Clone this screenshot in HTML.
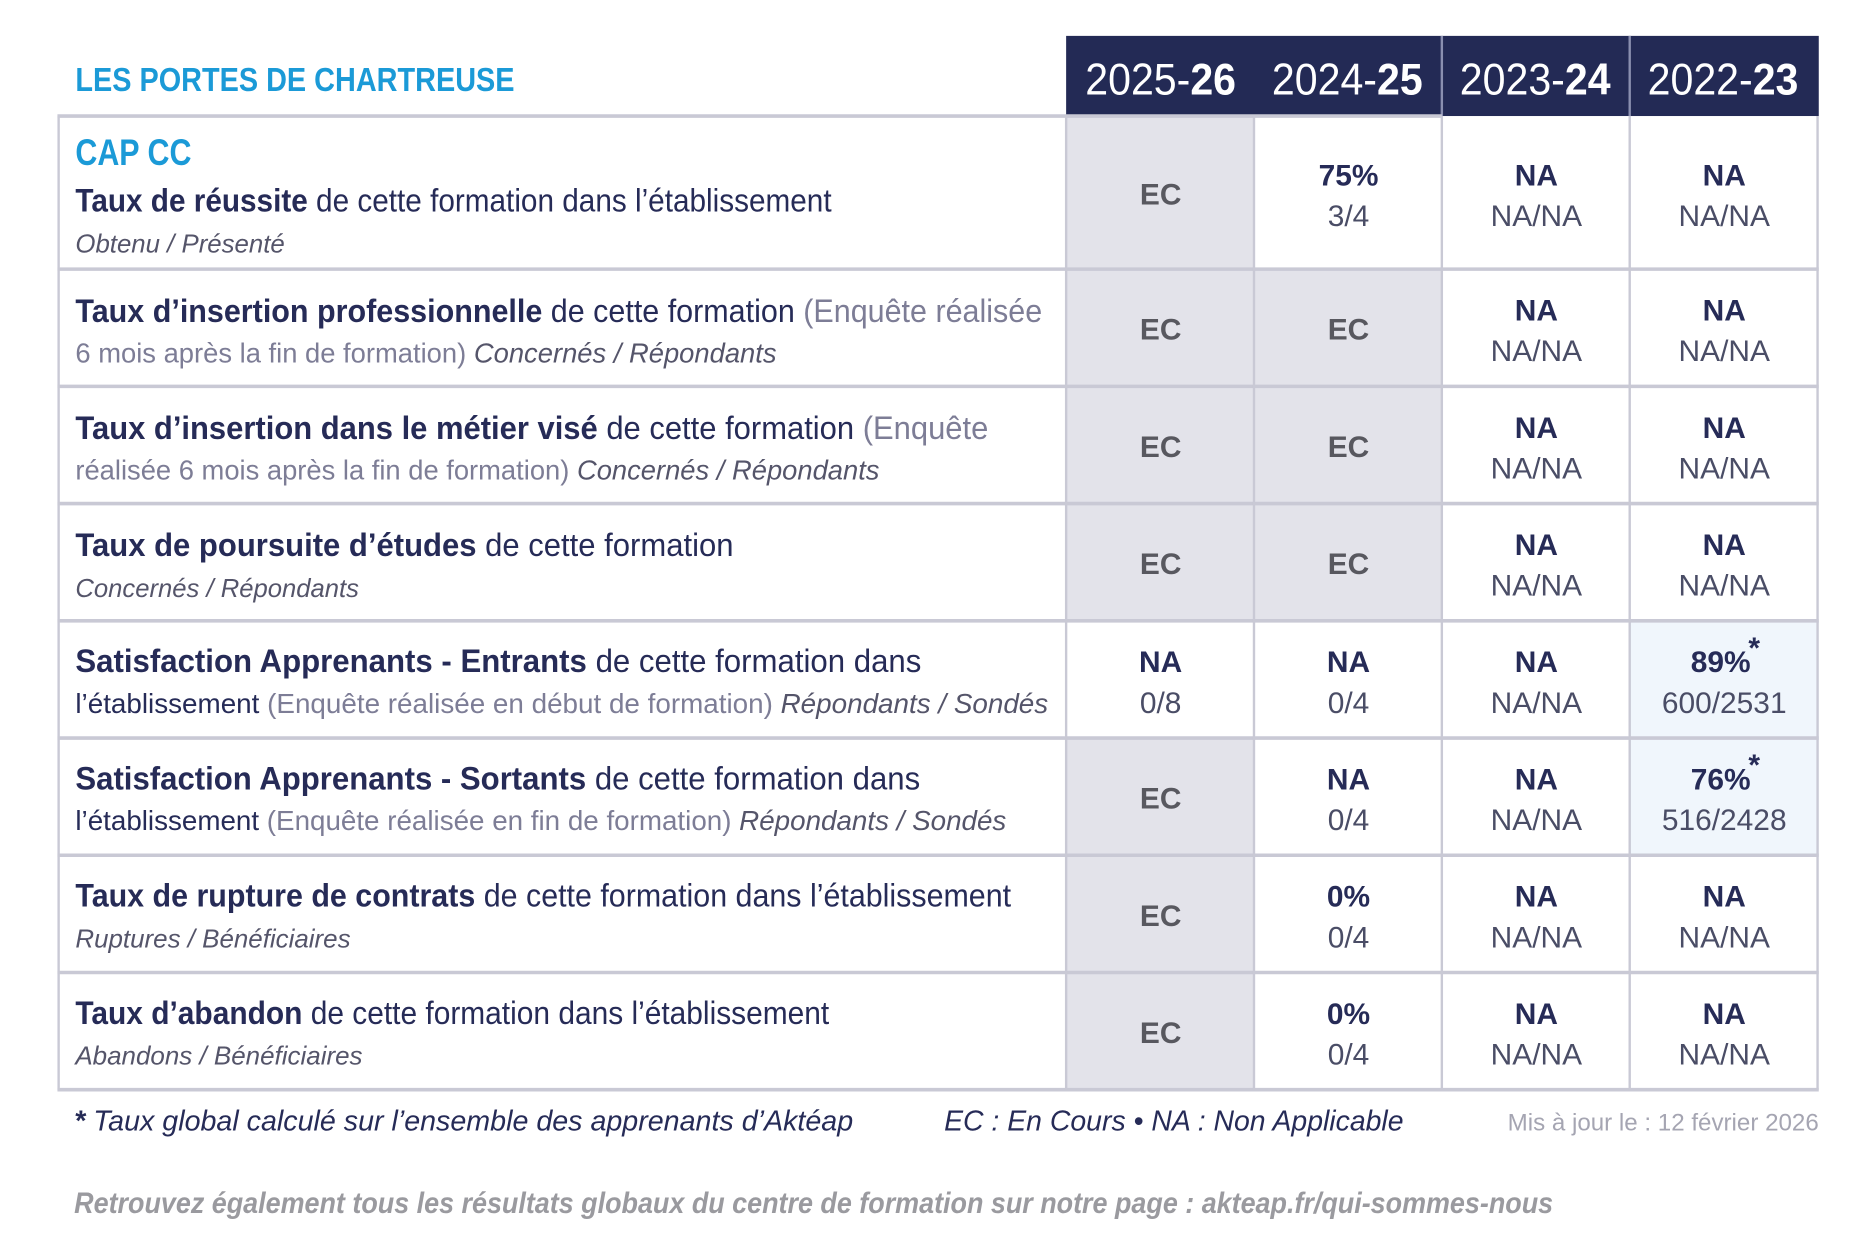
<!DOCTYPE html>
<html><head><meta charset="utf-8"><style>
html,body{margin:0;padding:0;background:#fff;width:1875px;height:1250px;overflow:hidden}
svg{display:block}
text{font-family:"Liberation Sans Narrow","Liberation Sans",sans-serif}
.b{font-weight:bold;fill:#262b57}
.r{fill:#262b57}
.g{fill:#7d7d96}
.i{font-style:italic;fill:#55556a}
.ec{font-weight:bold;fill:#58585f;font-size:25px}
.na{font-weight:bold;fill:#262b57;font-size:25px}
.sub{fill:#4a4d66;font-size:25px}
</style></head><body>
<svg width="1875" height="1250" viewBox="0 0 1567 1045" preserveAspectRatio="none" xmlns="http://www.w3.org/2000/svg">
<rect width="1567" height="1045" fill="#fff"/>
<text x="63" y="76" font-size="28" font-weight="bold" fill="#1b9ad7" textLength="367" lengthAdjust="spacingAndGlyphs">LES PORTES DE CHARTREUSE</text>
<rect x="891" y="30" width="629" height="67" fill="#232a55"/>
<line x1="1205" y1="30" x2="1205" y2="97" stroke="#8a8fb0" stroke-width="2"/>
<line x1="1362" y1="30" x2="1362" y2="97" stroke="#8a8fb0" stroke-width="2"/>
<g font-size="37" fill="#fff" text-anchor="middle">
<text x="970" y="79" textLength="126" lengthAdjust="spacingAndGlyphs">2025-<tspan font-weight="bold">26</tspan></text>
<text x="1126" y="79" textLength="126" lengthAdjust="spacingAndGlyphs">2024-<tspan font-weight="bold">25</tspan></text>
<text x="1283" y="79" textLength="126" lengthAdjust="spacingAndGlyphs">2023-<tspan font-weight="bold">24</tspan></text>
<text x="1440" y="79" textLength="126" lengthAdjust="spacingAndGlyphs">2022-<tspan font-weight="bold">23</tspan></text>
</g>
<rect x="891" y="97" width="157" height="422" fill="#e3e3ea"/>
<rect x="891" y="617" width="157" height="294" fill="#e3e3ea"/>
<rect x="1048" y="225" width="157" height="294" fill="#e3e3ea"/>
<rect x="1362" y="519" width="158" height="196" fill="#f0f6fc"/>
<g stroke="#c9c9d5">
<g stroke-width="3">
<line x1="48" y1="97" x2="1205" y2="97"/>
<line x1="48" y1="225" x2="1520" y2="225"/>
<line x1="48" y1="323" x2="1520" y2="323"/>
<line x1="48" y1="421" x2="1520" y2="421"/>
<line x1="48" y1="519" x2="1520" y2="519"/>
<line x1="48" y1="617" x2="1520" y2="617"/>
<line x1="48" y1="715" x2="1520" y2="715"/>
<line x1="48" y1="813" x2="1520" y2="813"/>
<line x1="48" y1="911" x2="1520" y2="911"/>
</g>
<g stroke-width="2">
<line x1="49" y1="97" x2="49" y2="911"/>
<line x1="891" y1="97" x2="891" y2="911"/>
<line x1="1048" y1="97" x2="1048" y2="911"/>
<line x1="1205" y1="97" x2="1205" y2="911"/>
<line x1="1362" y1="97" x2="1362" y2="911"/>
<line x1="1519" y1="97" x2="1519" y2="911"/>
</g>
</g>
<text x="63" y="138" font-size="31" font-weight="bold" fill="#1b9ad7" textLength="97" lengthAdjust="spacingAndGlyphs">CAP CC</text>
<text x="63" y="177" font-size="27" textLength="632" lengthAdjust="spacingAndGlyphs"><tspan class="b">Taux de réussite</tspan><tspan class="r"> de cette formation dans l’établissement</tspan></text>
<text x="63" y="211" font-size="22" class="i" textLength="175" lengthAdjust="spacingAndGlyphs">Obtenu / Présenté</text>

<text x="63" y="269" font-size="27" textLength="808" lengthAdjust="spacingAndGlyphs"><tspan class="b">Taux d’insertion professionnelle</tspan><tspan class="r"> de cette formation </tspan><tspan class="g">(Enquête réalisée</tspan></text>
<text x="63" y="303" font-size="23" textLength="586" lengthAdjust="spacingAndGlyphs"><tspan class="g">6 mois après la fin de formation) </tspan><tspan class="i">Concernés / Répondants</tspan></text>

<text x="63" y="367" font-size="27" textLength="763" lengthAdjust="spacingAndGlyphs"><tspan class="b">Taux d’insertion dans le métier visé</tspan><tspan class="r"> de cette formation </tspan><tspan class="g">(Enquête</tspan></text>
<text x="63" y="401" font-size="23" textLength="672" lengthAdjust="spacingAndGlyphs"><tspan class="g">réalisée 6 mois après la fin de formation) </tspan><tspan class="i">Concernés / Répondants</tspan></text>

<text x="63" y="465" font-size="27" textLength="550" lengthAdjust="spacingAndGlyphs"><tspan class="b">Taux de poursuite d’études</tspan><tspan class="r"> de cette formation</tspan></text>
<text x="63" y="499" font-size="22" class="i" textLength="237" lengthAdjust="spacingAndGlyphs">Concernés / Répondants</text>

<text x="63" y="562" font-size="27" textLength="707" lengthAdjust="spacingAndGlyphs"><tspan class="b">Satisfaction Apprenants - Entrants</tspan><tspan class="r"> de cette formation dans</tspan></text>
<text x="63" y="596" font-size="23" textLength="813" lengthAdjust="spacingAndGlyphs"><tspan class="r">l’établissement </tspan><tspan class="g">(Enquête réalisée en début de formation) </tspan><tspan class="i">Répondants / Sondés</tspan></text>

<text x="63" y="660" font-size="27" textLength="706" lengthAdjust="spacingAndGlyphs"><tspan class="b">Satisfaction Apprenants - Sortants</tspan><tspan class="r"> de cette formation dans</tspan></text>
<text x="63" y="694" font-size="23" textLength="778" lengthAdjust="spacingAndGlyphs"><tspan class="r">l’établissement </tspan><tspan class="g">(Enquête réalisée en fin de formation) </tspan><tspan class="i">Répondants / Sondés</tspan></text>

<text x="63" y="758" font-size="27" textLength="782" lengthAdjust="spacingAndGlyphs"><tspan class="b">Taux de rupture de contrats</tspan><tspan class="r"> de cette formation dans l’établissement</tspan></text>
<text x="63" y="792" font-size="22" class="i" textLength="230" lengthAdjust="spacingAndGlyphs">Ruptures / Bénéficiaires</text>

<text x="63" y="856" font-size="27" textLength="630" lengthAdjust="spacingAndGlyphs"><tspan class="b">Taux d’abandon</tspan><tspan class="r"> de cette formation dans l’établissement</tspan></text>
<text x="63" y="890" font-size="22" class="i" textLength="240" lengthAdjust="spacingAndGlyphs">Abandons / Bénéficiaires</text>

<g text-anchor="middle">
<text x="970" y="171" class="ec">EC</text>
<text x="1127" y="155" class="na">75%</text><text x="1127" y="189" class="sub">3/4</text>
<text x="1284" y="155" class="na">NA</text><text x="1284" y="189" class="sub">NA/NA</text>
<text x="1441" y="155" class="na">NA</text><text x="1441" y="189" class="sub">NA/NA</text>

<text x="970" y="284" class="ec">EC</text><text x="1127" y="284" class="ec">EC</text>
<text x="1284" y="268" class="na">NA</text><text x="1284" y="302" class="sub">NA/NA</text>
<text x="1441" y="268" class="na">NA</text><text x="1441" y="302" class="sub">NA/NA</text>

<text x="970" y="382" class="ec">EC</text><text x="1127" y="382" class="ec">EC</text>
<text x="1284" y="366" class="na">NA</text><text x="1284" y="400" class="sub">NA/NA</text>
<text x="1441" y="366" class="na">NA</text><text x="1441" y="400" class="sub">NA/NA</text>

<text x="970" y="480" class="ec">EC</text><text x="1127" y="480" class="ec">EC</text>
<text x="1284" y="464" class="na">NA</text><text x="1284" y="498" class="sub">NA/NA</text>
<text x="1441" y="464" class="na">NA</text><text x="1441" y="498" class="sub">NA/NA</text>

<text x="970" y="562" class="na">NA</text><text x="970" y="596" class="sub">0/8</text>
<text x="1127" y="562" class="na">NA</text><text x="1127" y="596" class="sub">0/4</text>
<text x="1284" y="562" class="na">NA</text><text x="1284" y="596" class="sub">NA/NA</text>
<text x="1438" y="562" class="na">89%</text><text x="1466" y="550" class="na" font-size="13">*</text><text x="1441" y="596" class="sub">600/2531</text>

<text x="970" y="676" class="ec">EC</text>
<text x="1127" y="660" class="na">NA</text><text x="1127" y="694" class="sub">0/4</text>
<text x="1284" y="660" class="na">NA</text><text x="1284" y="694" class="sub">NA/NA</text>
<text x="1438" y="660" class="na">76%</text><text x="1466" y="648" class="na" font-size="13">*</text><text x="1441" y="694" class="sub">516/2428</text>

<text x="970" y="774" class="ec">EC</text>
<text x="1127" y="758" class="na">0%</text><text x="1127" y="792" class="sub">0/4</text>
<text x="1284" y="758" class="na">NA</text><text x="1284" y="792" class="sub">NA/NA</text>
<text x="1441" y="758" class="na">NA</text><text x="1441" y="792" class="sub">NA/NA</text>

<text x="970" y="872" class="ec">EC</text>
<text x="1127" y="856" class="na">0%</text><text x="1127" y="890" class="sub">0/4</text>
<text x="1284" y="856" class="na">NA</text><text x="1284" y="890" class="sub">NA/NA</text>
<text x="1441" y="856" class="na">NA</text><text x="1441" y="890" class="sub">NA/NA</text>
</g>

<text x="62" y="945" font-size="24" font-style="italic" fill="#262b57" textLength="651" lengthAdjust="spacingAndGlyphs"><tspan font-weight="bold">* </tspan>Taux global calculé sur l’ensemble des apprenants d’Aktéap</text>
<text x="789" y="945" font-size="24" font-style="italic" fill="#262b57" textLength="384" lengthAdjust="spacingAndGlyphs">EC : En Cours  •  NA : Non Applicable</text>
<text x="1260" y="945" font-size="20" fill="#a5a5b2" textLength="260" lengthAdjust="spacingAndGlyphs">Mis à jour le : 12 février 2026</text>
<text x="62" y="1014" font-size="25" font-style="italic" font-weight="bold" fill="#9a9a9f" textLength="1236" lengthAdjust="spacingAndGlyphs">Retrouvez également tous les résultats globaux du centre de formation sur notre page : akteap.fr/qui-sommes-nous</text>
</svg>
</body></html>
